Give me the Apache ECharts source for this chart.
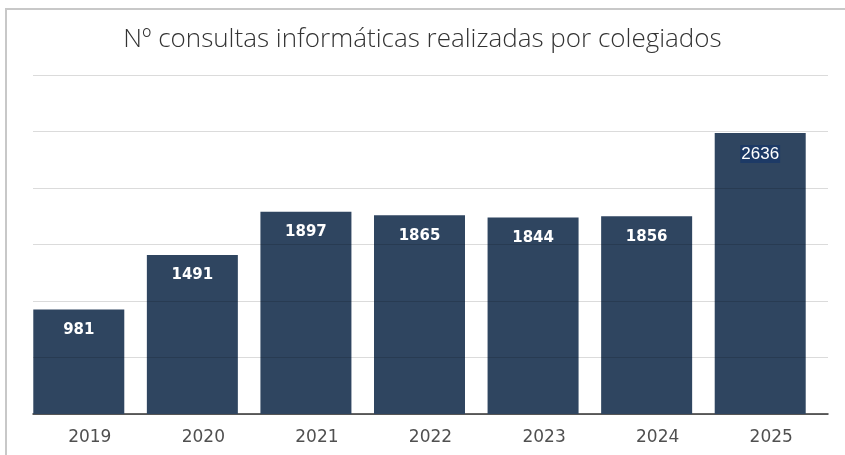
<!DOCTYPE html>
<html>
<head>
<meta charset="utf-8">
<script src="https://cdn.jsdelivr.net/npm/echarts@6/dist/echarts.min.js"></script>
<style>
  html, body { margin: 0; padding: 0; background: #fff; }
  #chart { width: 845px; height: 455px; }
</style>
</head>
<body>
<div id="chart"></div>
<script>
// values
const years = ['2019', '2020', '2021', '2022', '2023', '2024', '2025'];
const consultas = [981, 1491, 1897, 1865, 1844, 1856, 2636];
const highlighted = ['2025'];

const chart = echarts.init(document.getElementById('chart'));

const barData = consultas.map((v, i) => {
  if (highlighted.indexOf(years[i]) === -1) return v;
  return {
    value: v,
    label: {
      fontWeight: 'normal',
      fontFamily: 'Liberation Sans',
      fontSize: 17,
      backgroundColor: '#1d3a66',
      padding: [1, 1, 0, 1],
      distance: 12
    }
  };
});

chart.setOption({
  backgroundColor: '#fff',
  animation: false,
  title: {
    text: 'Nº consultas informáticas realizadas por colegiados',
    left: 'center',
    top: 22,
    textStyle: {
      fontFamily: 'Open Sans',
      fontWeight: 300,
      fontSize: 26,
      color: '#333'
    }
  },
  graphic: [{
    type: 'rect',
    shape: {x: 6, y: 9, width: 900, height: 480},
    style: {fill: 'none', stroke: '#c8c8c8', lineWidth: 2},
    silent: true
  }],
  grid: {left: 33, right: 17, top: 75, bottom: 41},
  xAxis: {
    type: 'category',
    data: years,
    axisTick: {show: false},
    axisLine: {lineStyle: {color: '#333', width: 1.5}},
    axisLabel: {
      color: '#505050',
      fontFamily: 'DejaVu Sans',
      fontSize: 17,
      margin: 15
    }
  },
  yAxis: {
    type: 'value',
    min: 0,
    max: 3180,
    interval: 530,
    z: 5,
    axisLine: {show: false},
    axisTick: {show: false},
    axisLabel: {show: false},
    splitLine: {lineStyle: {color: 'rgba(0,0,0,0.14)', width: 1}}
  },
  series: [
    {
      name: 'consultas',
      type: 'bar',
      data: barData,
      barWidth: 91,
      barGap: 0,
      barCategoryGap: 0,
      itemStyle: {color: '#2f4560'},
      label: {
        show: true,
        position: 'insideTop',
        distance: 13,
        color: '#fff',
        fontFamily: 'DejaVu Sans',
        fontWeight: 'bold',
        fontSize: 15
      }
    },
    {
      // empty slot: keeps each bar at the left side of its category
      name: 'hueco',
      type: 'bar',
      data: [],
      barWidth: 22,
      silent: true
    }
  ]
});
</script>
</body>
</html>
